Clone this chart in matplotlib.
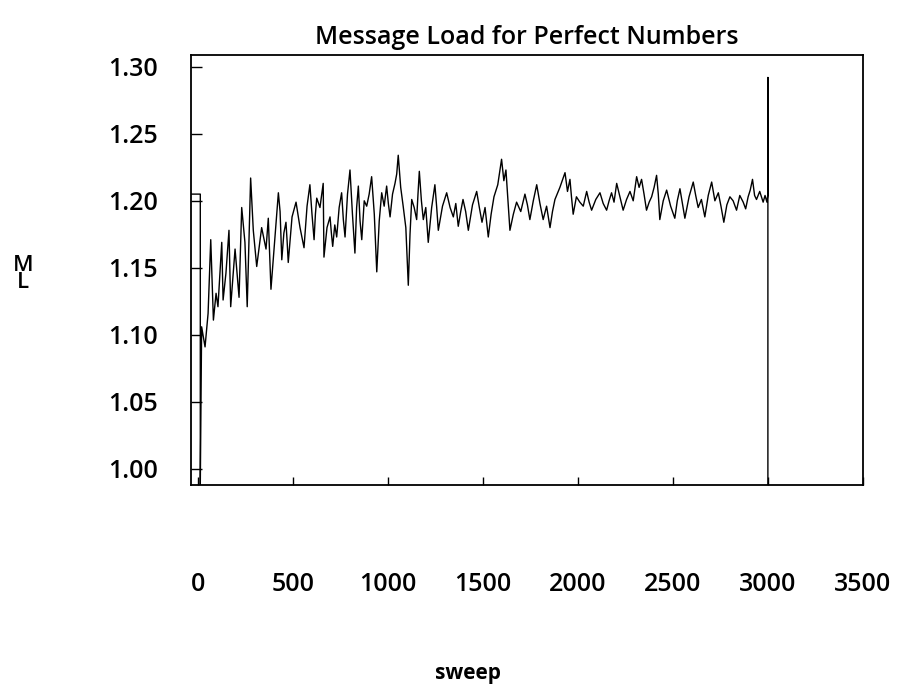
import numpy as np
import matplotlib
matplotlib.use('Agg')
import matplotlib.pyplot as plt

plt.rcParams['font.family'] = ['Open Sans', 'DejaVu Sans']

# Message load per sweep
sweep = [-37, 12, 12, 19, 37, 53, 67, 81, 95, 105,
         125, 132, 147, 163, 172, 195, 216, 230, 247, 259,
         277, 291, 309, 335, 358, 370, 384, 423, 432, 441,
         452, 463, 469, 475, 495, 516, 537, 558, 574, 589,
         600, 611, 618, 625, 642, 659, 663, 679, 695, 702,
         709, 720, 730, 743, 756, 765, 774, 787, 800, 813,
         826, 835, 844, 853, 862, 875, 888, 901, 914, 928,
         941, 954, 967, 980, 993, 1002, 1011, 1024, 1037, 1046,
         1054, 1067, 1080, 1094, 1107, 1116, 1125, 1138, 1151, 1158,
         1165, 1176, 1186, 1199, 1212, 1230, 1247, 1256, 1265, 1287,
         1309, 1327, 1344, 1357, 1370, 1383, 1395, 1409, 1423, 1445,
         1467, 1481, 1495, 1511, 1528, 1543, 1558, 1578, 1598, 1610,
         1621, 1632, 1642, 1660, 1677, 1699, 1721, 1734, 1747, 1765,
         1783, 1800, 1817, 1835, 1853, 1866, 1879, 1905, 1932, 1945,
         1958, 1966, 1975, 1992, 2010, 2028, 2046, 2059, 2072, 2094,
         2116, 2133, 2151, 2164, 2177, 2190, 2204, 2221, 2238, 2256,
         2274, 2291, 2309, 2322, 2335, 2348, 2361, 2375, 2388, 2401,
         2414, 2423, 2431, 2449, 2467, 2488, 2510, 2523, 2537, 2550,
         2563, 2585, 2607, 2620, 2633, 2650, 2668, 2686, 2704, 2721,
         2739, 2753, 2768, 2784, 2800, 2817, 2835, 2852, 2870, 2883,
         2896, 2907, 2919, 2930, 2940, 2957, 2975, 2985, 2995, 3000,
         3000, 3000]
load = [1.205, 1.205, 0.988, 1.106, 1.091, 1.116, 1.171, 1.111, 1.131, 1.121,
        1.169, 1.126, 1.146, 1.178, 1.121, 1.164, 1.128, 1.195, 1.169, 1.121,
        1.217, 1.178, 1.151, 1.180, 1.164, 1.187, 1.134, 1.206, 1.192, 1.156,
        1.176, 1.184, 1.170, 1.154, 1.188, 1.199, 1.180, 1.165, 1.196, 1.212,
        1.190, 1.171, 1.190, 1.202, 1.195, 1.213, 1.158, 1.180, 1.188, 1.176,
        1.166, 1.182, 1.173, 1.195, 1.206, 1.186, 1.173, 1.205, 1.223, 1.190,
        1.161, 1.195, 1.211, 1.185, 1.171, 1.200, 1.196, 1.205, 1.218, 1.190,
        1.147, 1.185, 1.206, 1.196, 1.211, 1.198, 1.188, 1.205, 1.213, 1.220,
        1.234, 1.210, 1.196, 1.180, 1.137, 1.175, 1.201, 1.195, 1.186, 1.205,
        1.222, 1.200, 1.186, 1.195, 1.169, 1.195, 1.212, 1.196, 1.178, 1.196,
        1.206, 1.195, 1.188, 1.198, 1.181, 1.192, 1.201, 1.192, 1.178, 1.197,
        1.207, 1.195, 1.184, 1.195, 1.173, 1.190, 1.203, 1.212, 1.231, 1.215,
        1.223, 1.200, 1.178, 1.190, 1.199, 1.192, 1.205, 1.197, 1.186, 1.200,
        1.212, 1.198, 1.186, 1.196, 1.180, 1.192, 1.201, 1.210, 1.221, 1.207,
        1.216, 1.203, 1.190, 1.203, 1.199, 1.196, 1.207, 1.199, 1.193, 1.201,
        1.206, 1.198, 1.193, 1.200, 1.206, 1.199, 1.213, 1.203, 1.193, 1.201,
        1.207, 1.200, 1.218, 1.210, 1.216, 1.205, 1.193, 1.199, 1.203, 1.210,
        1.219, 1.205, 1.186, 1.200, 1.208, 1.196, 1.187, 1.200, 1.209, 1.198,
        1.187, 1.203, 1.214, 1.204, 1.195, 1.201, 1.188, 1.204, 1.214, 1.200,
        1.206, 1.196, 1.184, 1.197, 1.203, 1.200, 1.193, 1.204, 1.199, 1.194,
        1.203, 1.208, 1.216, 1.204, 1.201, 1.207, 1.199, 1.204, 1.199, 1.205,
        1.292, 0.988]

xticks = [0, 500, 1000, 1500, 2000, 2500, 3000, 3500]
yticks = [1.00, 1.05, 1.10, 1.15, 1.20, 1.25, 1.30]

fig = plt.figure(figsize=(9.16, 6.84), dpi=100)
ax = fig.add_axes([0.2085, 0.291, 0.7335, 0.629])

ax.plot(sweep, load, color='black', linewidth=1.0)

ax.set_xlim(-37, 3500)
ax.set_ylim(0.988, 1.309)
ax.set_xticks(xticks)
ax.set_yticks(yticks)
ax.set_yticklabels([f'{v:.2f}' for v in yticks])
ax.tick_params(axis='x', direction='in', length=6, width=1, pad=63, labelsize=18)
ax.tick_params(axis='y', direction='in', length=8, width=1, pad=24, labelsize=18)
for lab in ax.get_xticklabels() + ax.get_yticklabels():
    lab.set_fontweight('semibold')
for s in ax.spines.values():
    s.set_linewidth(1.3)

ax.set_title('Message Load for Perfect Numbers', fontsize=18, fontweight='semibold', pad=8)
ax.set_xlabel('sweep', fontsize=15, fontweight='bold')
ax.xaxis.set_label_coords(0.412, -0.414)
ax.set_ylabel('M\nL', fontsize=16, fontweight='semibold', rotation=0, linespacing=0.75,
              va='center', ha='center')
ax.yaxis.set_label_coords(-0.25, 0.49)

plt.savefig('out.png', dpi=100)
